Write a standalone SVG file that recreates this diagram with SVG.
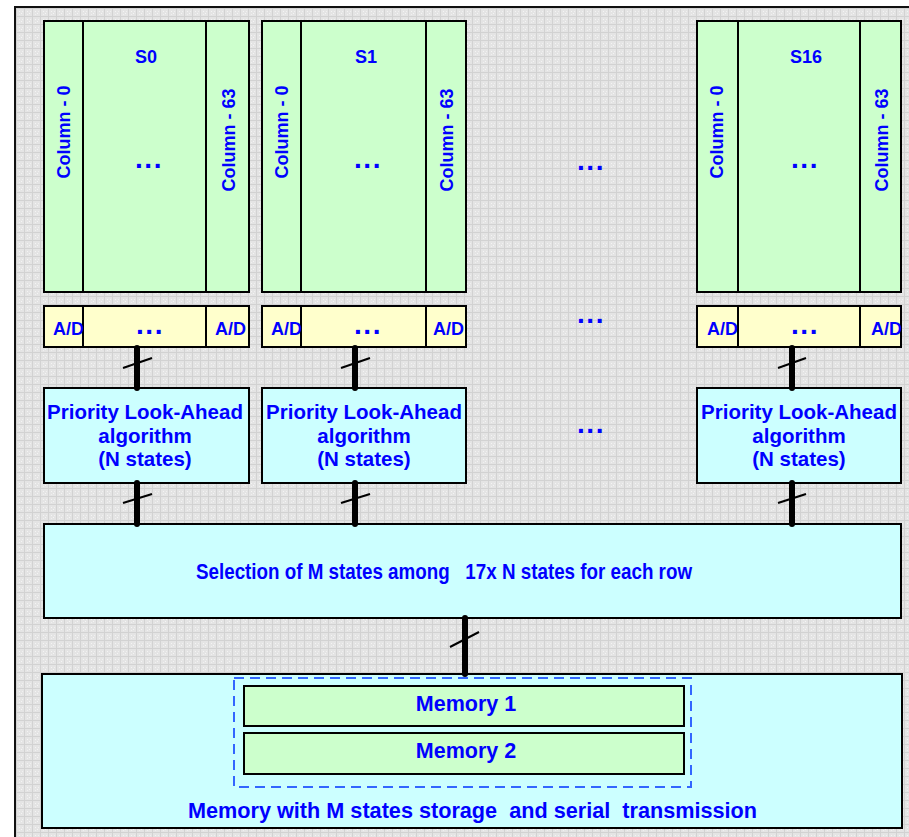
<svg xmlns="http://www.w3.org/2000/svg" width="909" height="837" viewBox="0 0 909 837">
<defs>
<pattern id="grid" x="0" y="0" width="8" height="8" patternUnits="userSpaceOnUse">
<rect width="8" height="8" fill="#e4e4e4"/>
<rect x="0" y="0" width="8" height="1" fill="#d2d2d2"/>
<rect x="0" y="0" width="1" height="8" fill="#d2d2d2"/>
<rect x="3" y="3" width="1" height="1" fill="#f4f4f4"/>
<rect x="5" y="5" width="1" height="1" fill="#f4f4f4"/>
<rect x="3" y="6" width="1" height="1" fill="#f0f0f0"/>
<rect x="6" y="3" width="1" height="1" fill="#f0f0f0"/>
</pattern>
</defs>
<style>
.box{stroke:#000;stroke-width:2}
.g{fill:#ccffcc}
.y{fill:#ffffcc}
.c{fill:#ccffff}
.t{font-family:"Liberation Sans",Arial,sans-serif;font-weight:bold;fill:#0000ff}
.m{text-anchor:middle}
.f18{font-size:18px}
.f20{font-size:20.5px}
.f21{font-size:21.5px}
.dots{font-size:28px;letter-spacing:1.5px}
.bus{stroke:#000;stroke-width:6;stroke-linecap:round;fill:none}
.tick{stroke:#000;stroke-width:2;fill:none}
</style>
<rect x="0" y="0" width="909" height="837" fill="#ffffff"/>
<rect x="15" y="7" width="894" height="830" fill="url(#grid)"/>
<path d="M15,837 V7 H909" fill="none" stroke="#111" stroke-width="2"/>

<g id="S0">
<rect class="box g" x="44" y="21" width="205" height="271"/>
<line class="box" x1="83" y1="21" x2="83" y2="292"/>
<line class="box" x1="206" y1="21" x2="206" y2="292"/>
<text class="t f18 m" x="146" y="63">S0</text>
<text class="t f18 m" transform="translate(70,132) rotate(-90)">Column - 0</text>
<text class="t f18 m" transform="translate(235,140) rotate(-90)">Column - 63</text>
<text class="t dots m" x="149" y="168">...</text>
</g>
<g id="S1">
<rect class="box g" x="262" y="21" width="204" height="271"/>
<line class="box" x1="301" y1="21" x2="301" y2="292"/>
<line class="box" x1="426" y1="21" x2="426" y2="292"/>
<text class="t f18 m" x="366" y="63">S1</text>
<text class="t f18 m" transform="translate(288,132) rotate(-90)">Column - 0</text>
<text class="t f18 m" transform="translate(453,140) rotate(-90)">Column - 63</text>
<text class="t dots m" x="368" y="168">...</text>
</g>
<g id="S16">
<rect class="box g" x="697" y="21" width="204" height="271"/>
<line class="box" x1="738" y1="21" x2="738" y2="292"/>
<line class="box" x1="860" y1="21" x2="860" y2="292"/>
<text class="t f18 m" x="806" y="63">S16</text>
<text class="t f18 m" transform="translate(723,132) rotate(-90)">Column - 0</text>
<text class="t f18 m" transform="translate(888,140) rotate(-90)">Column - 63</text>
<text class="t dots m" x="805" y="168">...</text>
</g>
<g id="dots-mid">
<text class="t dots m" x="591" y="170">...</text>
<text class="t dots m" x="591" y="323">...</text>
<text class="t dots m" x="591" y="433">...</text>
</g>

<g id="AD0">
<rect class="box y" x="44" y="306" width="205" height="41"/>
<line class="box" x1="83" y1="306" x2="83" y2="347"/>
<line class="box" x1="206" y1="306" x2="206" y2="347"/>
<text class="t f18" x="53" y="335">A/D</text>
<text class="t f18" x="215" y="335">A/D</text>
<text class="t dots m" x="150" y="334">...</text>
</g>
<g id="AD1">
<rect class="box y" x="262" y="306" width="204" height="41"/>
<line class="box" x1="301" y1="306" x2="301" y2="347"/>
<line class="box" x1="426" y1="306" x2="426" y2="347"/>
<text class="t f18" x="271" y="335">A/D</text>
<text class="t f18" x="433" y="335">A/D</text>
<text class="t dots m" x="368" y="334">...</text>
</g>
<g id="AD16">
<rect class="box y" x="697" y="306" width="204" height="41"/>
<line class="box" x1="738" y1="306" x2="738" y2="347"/>
<line class="box" x1="860" y1="306" x2="860" y2="347"/>
<text class="t f18" x="707" y="335">A/D</text>
<text class="t f18" x="871" y="335">A/D</text>
<text class="t dots m" x="805" y="334">...</text>
</g>

<g id="PLA0">
<rect class="box c" x="44" y="388" width="205" height="95"/>
<text class="t f20 m" x="145" y="419">Priority Look-Ahead</text>
<text class="t f20 m" x="145" y="443">algorithm</text>
<text class="t f20 m" x="145" y="466">(N states)</text>
</g>
<g id="PLA1">
<rect class="box c" x="262" y="388" width="204" height="95"/>
<text class="t f20 m" x="364" y="419">Priority Look-Ahead</text>
<text class="t f20 m" x="364" y="443">algorithm</text>
<text class="t f20 m" x="364" y="466">(N states)</text>
</g>
<g id="PLA16">
<rect class="box c" x="697" y="388" width="204" height="95"/>
<text class="t f20 m" x="799" y="419">Priority Look-Ahead</text>
<text class="t f20 m" x="799" y="443">algorithm</text>
<text class="t f20 m" x="799" y="466">(N states)</text>
</g>

<g id="selection">
<rect class="box c" x="44" y="524" width="857" height="94"/>
<text class="t f21" x="196" y="579" textLength="496" lengthAdjust="spacingAndGlyphs" xml:space="preserve">Selection of M states among   17x N states for each row</text>
</g>

<g id="memory">
<rect class="box c" x="42" y="674" width="860" height="154"/>
<rect x="234" y="678" width="457" height="109" fill="none" stroke="#3366ff" stroke-width="2" stroke-dasharray="10,6"/>
<text class="t f21" x="188" y="818" textLength="569" lengthAdjust="spacingAndGlyphs" xml:space="preserve">Memory with M states storage  and serial  transmission</text>
</g>
<g id="memory1">
<rect class="box g" x="244" y="686" width="440" height="40"/>
<text class="t f21 m" x="466" y="711">Memory 1</text>
</g>
<g id="memory2">
<rect class="box g" x="244" y="733" width="440" height="41"/>
<text class="t f21 m" x="466" y="758">Memory 2</text>
</g>

<g id="connectors">
<line class="bus" x1="137" y1="348" x2="137" y2="388"/>
<line class="tick" x1="123" y1="368" x2="152" y2="358"/>
<line class="bus" x1="355" y1="348" x2="355" y2="388"/>
<line class="tick" x1="341" y1="368" x2="370" y2="358"/>
<line class="bus" x1="792" y1="348" x2="792" y2="388"/>
<line class="tick" x1="778" y1="368" x2="806" y2="358"/>
<line class="bus" x1="137" y1="483" x2="137" y2="524"/>
<line class="tick" x1="123" y1="503" x2="152" y2="494"/>
<line class="bus" x1="355" y1="483" x2="355" y2="524"/>
<line class="tick" x1="341" y1="503" x2="370" y2="494"/>
<line class="bus" x1="792" y1="483" x2="792" y2="524"/>
<line class="tick" x1="778" y1="503" x2="806" y2="494"/>
<line class="bus" x1="465" y1="618" x2="465" y2="674"/>
<line class="tick" x1="450" y1="647" x2="479" y2="632"/>
</g>
</svg>
